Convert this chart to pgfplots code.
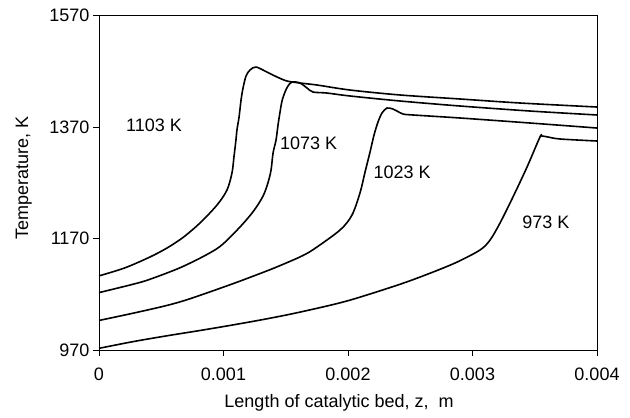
\documentclass[border=0pt]{standalone}
\usepackage{fontspec}
\setmainfont{Liberation Sans}
\usepackage{pgfplots}
\pgfplotsset{compat=1.18}
\newcommand{\ff}{\fontsize{18bp}{21bp}\selectfont}
\begin{document}
\begin{tikzpicture}
\path[use as bounding box] (-99bp,-68bp) rectangle (531bp,350bp);
\begin{axis}[
  at={(0,0)}, anchor=south west,
  scale only axis, width=498bp, height=334.3bp,
  xmin=0, xmax=0.004, ymin=970, ymax=1570,
  xtick={0,0.001,0.002,0.003,0.004},
  xticklabels={0,0.001,0.002,0.003,0.004},
  scaled x ticks=false,
  ytick={970,1170,1370,1570},
  yticklabels={970,1170,1370,1570},
  tick align=outside, xtick pos=left, ytick pos=left,
  major tick length=6bp,
  tick style={black, line width=0.6bp},
  axis line style={black, line width=0.8bp},
  /pgf/number format/assume math mode=true,
  tick label style={font=\ff},
  xticklabel style={yshift=-8bp},
  xlabel={Length of catalytic bed, z,\ \ m},
  ylabel={Temperature, K},
  every axis x label/.style={at={(axis description cs:0.482,-0.157)}, anchor=center, font=\ff},
  every axis y label/.style={at={(axis description cs:-0.151,0.515)}, rotate=90, anchor=center, font=\ff},
  clip=false,
]
% 1103 K
\addplot[black, line width=1.6bp, smooth, tension=0.5] coordinates {
(0,1103) (0.000209,1117.5) (0.000410,1137) (0.000546,1153) (0.000675,1172)
(0.000811,1197.9) (0.000948,1230.2) (0.001028,1257.1) (0.001068,1287.6)
(0.001084,1316.4) (0.001100,1346.9) (0.001108,1364.8) (0.001125,1388.2)
(0.001141,1418.7) (0.001157,1440.2) (0.001181,1461.8) (0.001213,1472.5)
(0.001261,1477.9) (0.001349,1468.9) (0.001430,1460.0) (0.001510,1452.8)
(0.001614,1449.2) (0.001751,1445.6) (0.002016,1436.6) (0.002418,1427.7)
(0.002900,1420.5) (0.003382,1413.3) (0.004,1406.1)
};
% 1073 K
\addplot[black, line width=1.6bp, smooth, tension=0.5] coordinates {
(0,1073) (0.000273,1088) (0.000410,1097) (0.000675,1120) (0.000948,1152)
(0.001108,1185) (0.001237,1218) (0.001317,1246) (0.001357,1270)
(0.001382,1293.0) (0.001398,1323.5) (0.001422,1346.9) (0.001438,1373.8)
(0.001454,1397.1) (0.001470,1416.9) (0.001494,1433.0) (0.001518,1443.8)
(0.001550,1451.0) (0.001614,1449.2) (0.001671,1440.2) (0.001719,1433.0)
(0.001831,1431.2) (0.002016,1425.9) (0.002418,1416.9) (0.002900,1407.9)
(0.003462,1398.9) (0.004,1391.8)
};
% 1023 K
\addplot[black, line width=1.6bp, smooth, tension=0.5] coordinates {
(0,1023) (0.000273,1036) (0.000546,1050) (0.000731,1062) (0.001076,1089)
(0.001349,1112) (0.001454,1121.5) (0.001614,1137) (0.001719,1150)
(0.001936,1185.3) (0.002032,1212.2) (0.002096,1251.7) (0.002137,1289.4)
(0.002177,1325.3) (0.002209,1355.8) (0.002241,1379.2) (0.002273,1395.3)
(0.002313,1404.3) (0.002361,1402.5) (0.002394,1398.9) (0.002442,1393.5)
(0.002522,1391.8) (0.002900,1386.4) (0.003462,1377.4) (0.004,1368.4)
};
% 973 K
\addplot[black, line width=1.6bp, smooth, tension=0.5] coordinates {
(0,973) (0.000273,985) (0.000546,995.5) (0.000811,1005) (0.001076,1015)
(0.001349,1026) (0.001614,1038) (0.001992,1058) (0.002418,1088)
(0.002683,1109.9) (0.002876,1127.8) (0.003060,1149.4)
(0.003141,1167.3) (0.003221,1197.9) (0.003325,1244.6) (0.003438,1298.4)
(0.003542,1352.3) (0.003558,1354.1) (0.003606,1352.3) (0.003703,1348.7)
(0.004,1345.1)
};
\node[font=\ff] at (axis cs:0.000442,1373.8) {1103 K};
\node[font=\ff] at (axis cs:0.001683,1341.5) {1073 K};
\node[font=\ff] at (axis cs:0.002434,1289.4) {1023 K};
\node[font=\ff] at (axis cs:0.003590,1199.7) {973 K};
\end{axis}
\end{tikzpicture}
\end{document}
